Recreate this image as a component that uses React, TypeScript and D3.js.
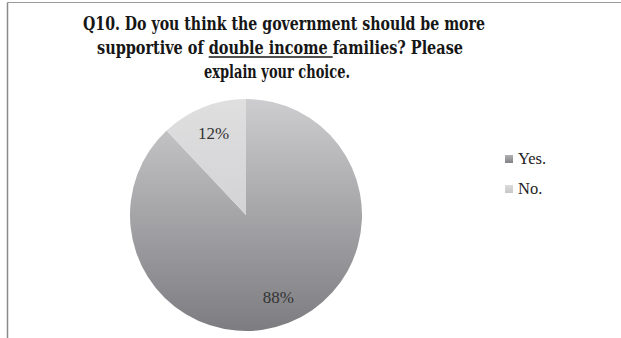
import React, { useLayoutEffect, useRef, useState } from "react";
import * as d3 from "d3";

const categories = ["Yes.", "No."];
const values = [88, 12];
const labels = ["88%", "12%"];
const titleLines = [
  "Q10. Do you think the government should be more",
  "supportive of double income families? Please",
  "explain your choice.",
];
const underlined = "double income ";

const W = 621;
const H = 338;

export default function App() {
  const cx = 246;
  const cy = 215;
  const r = 116;
  const pie = d3.pie<number>().sort(null).value((d) => d);
  const arcs = pie(values);
  const arc = d3.arc<d3.PieArcDatum<number>>().innerRadius(0).outerRadius(r);
  const labelArc = d3.arc<d3.PieArcDatum<number>>().innerRadius(r * 0.76).outerRadius(r * 0.76);
  const fills = ["url(#gYes)", "url(#gNo)"];
  const legendFills = ["url(#lYes)", "url(#lNo)"];
  const bodyFont = "'Liberation Serif', 'DejaVu Serif', serif";
  const titleFont = "'DejaVu Serif Condensed', 'DejaVu Serif', serif";
  const line2Ref = useRef<SVGTextElement>(null);
  const [ul, setUl] = useState<[number, number] | null>(null);
  useLayoutEffect(() => {
    const el = line2Ref.current;
    if (!el) return;
    const start = titleLines[1].indexOf(underlined);
    try {
      const s = el.getStartPositionOfChar(start);
      const e = el.getEndPositionOfChar(start + underlined.length - 1);
      setUl([s.x, e.x]);
    } catch (err) {
      setUl(null);
    }
  }, []);
  return (
    <svg
      width={W}
      height={H}
      style={{ position: "absolute", left: 0, top: 0, background: "#fff" }}
    >
      <defs>
        <linearGradient id="gYes" x1="0" y1={-r} x2="0" y2={r} gradientUnits="userSpaceOnUse">
          <stop offset="0" stopColor="#cdcdcf" />
          <stop offset="1" stopColor="#7d7d81" />
        </linearGradient>
        <linearGradient id="gNo" x1="0" y1={-r} x2="0" y2={0} gradientUnits="userSpaceOnUse">
          <stop offset="0" stopColor="#dfdfe0" />
          <stop offset="1" stopColor="#d3d3d5" />
        </linearGradient>
        <linearGradient id="lYes" x1="0" y1="0" x2="0" y2="1">
          <stop offset="0" stopColor="#b0b0b2" />
          <stop offset="1" stopColor="#838387" />
        </linearGradient>
        <linearGradient id="lNo" x1="0" y1="0" x2="0" y2="1">
          <stop offset="0" stopColor="#dcdcdd" />
          <stop offset="1" stopColor="#c6c6c8" />
        </linearGradient>
        <filter id="soft" x="-10%" y="-10%" width="120%" height="120%">
          <feGaussianBlur stdDeviation="0.6" />
        </filter>
      </defs>
      <line x1={7.5} y1={2.5} x2={W} y2={2.5} stroke="#9a9a9a" strokeWidth={1.2} />
      <line x1={7.5} y1={2.5} x2={7.5} y2={H} stroke="#8a8a8a" strokeWidth={1.5} />
      <g fontFamily={titleFont} fontWeight="bold" fontSize={18.5} fill="#161616" textAnchor="middle">
        <text x={284} y={30} textLength={402} lengthAdjust="spacingAndGlyphs">{titleLines[0]}</text>
        <text ref={line2Ref} x={280} y={54} textLength={366} lengthAdjust="spacingAndGlyphs">
          {titleLines[1]}
        </text>
        <text x={277} y={78} textLength={146} lengthAdjust="spacingAndGlyphs">{titleLines[2]}</text>
      </g>
      {ul && (
        <line x1={ul[0]} x2={ul[1]} y1={57} y2={57} stroke="#161616" strokeWidth={1.3} />
      )}
      <g transform={`translate(${cx},${cy})`} filter="url(#soft)">
        {arcs.map((a, i) => (
          <path key={categories[i]} d={arc(a) || ""} fill={fills[i]} />
        ))}
      </g>
      <g transform={`translate(${cx},${cy})`} fontFamily={bodyFont} fontSize={17} fill="#333" textAnchor="middle">
        {arcs.map((a, i) => {
          const [x, y] = labelArc.centroid(a);
          return (
            <text key={labels[i]} x={x} y={y} dy="0.35em">
              {labels[i]}
            </text>
          );
        })}
      </g>
      <g fontFamily={bodyFont} fontSize={16.5} fill="#222">
        {categories.map((c, i) => (
          <g key={c} transform={`translate(505,${155 + i * 30})`}>
            <rect x={0} y={0} width={8} height={8} fill={legendFills[i]} />
            <text x={13} y={9}>{c}</text>
          </g>
        ))}
      </g>
    </svg>
  );
}
